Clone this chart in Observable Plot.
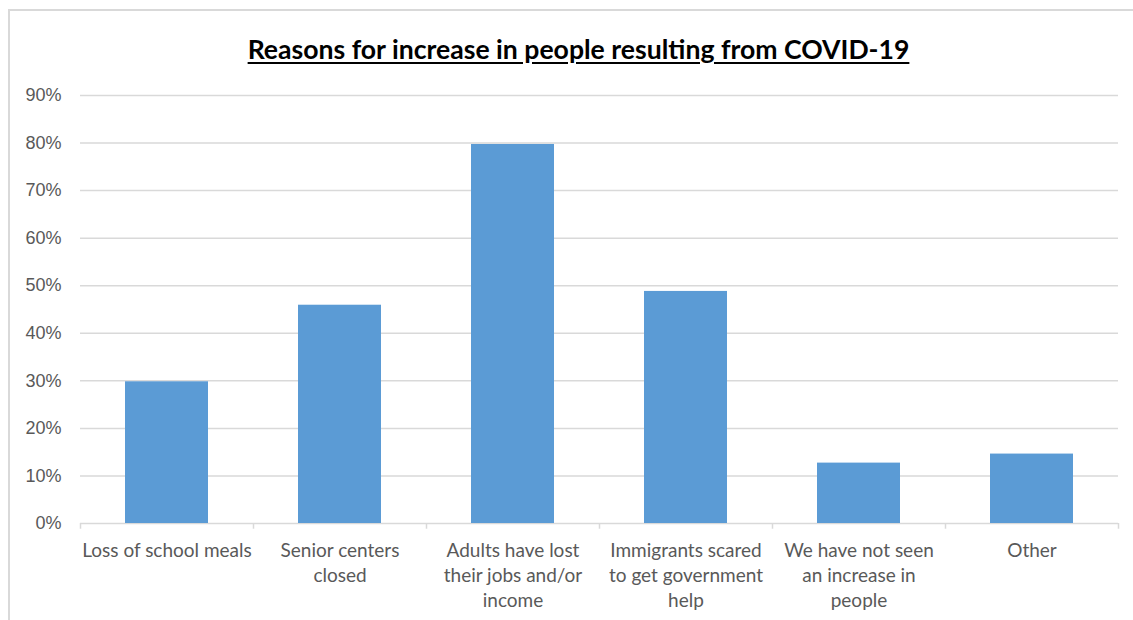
<!DOCTYPE html>
<html><head><meta charset="utf-8">
<script src="https://cdn.jsdelivr.net/npm/d3@7"></script>
<script src="https://cdn.jsdelivr.net/npm/@observablehq/plot@0.6"></script>
<style>
html,body{margin:0;padding:0;background:#fff;}
#wrap{position:relative;width:1133px;height:620px;overflow:hidden;}
#frame{position:absolute;left:8px;top:9px;width:1140px;height:640px;border:2px solid #d9d9d9;box-sizing:border-box;}
#title{position:absolute;left:0;width:1157px;top:33px;text-align:center;font-family:Lato,sans-serif;font-weight:bold;font-size:26.6px;color:#000;text-decoration:underline;text-underline-offset:3px;}
#chart{position:absolute;left:0;top:0;}
</style></head><body>
<div id="wrap"><div id="frame"></div><div id="title">Reasons for increase in people resulting from COVID-19</div><div id="chart"></div></div>
<script>
const categories = ["Loss of school meals","Senior centers closed","Adults have lost their jobs and/or income","Immigrants scared to get government help","We have not seen an increase in people","Other"];
const labelLines = ["Loss of school meals","Senior centers\nclosed","Adults have lost\ntheir jobs and/or\nincome","Immigrants scared\nto get government\nhelp","We have not seen\nan increase in\npeople","Other"];
const values = [0.298, 0.459, 0.797, 0.488, 0.127, 0.146];
const yTicks = [0,0.1,0.2,0.3,0.4,0.5,0.6,0.7,0.8,0.9];

const data = categories.map((c,i)=>({cat:c, v:values[i]}));
const labelOf = new Map(categories.map((c,i)=>[c,labelLines[i]]));
const W = 1133, ML = 80, MR = 15;
const bw = (W-ML-MR)/categories.length;

const plot = Plot.plot({
  width: W, height: 620,
  marginTop: 95, marginBottom: 97, marginLeft: ML, marginRight: MR,
  style:{background:"transparent"},
  x:{domain:categories, padding:0},
  y:{domain:[0,0.9]},
  marks:[
    Plot.ruleY(yTicks, {stroke:"#d9d9d9", strokeWidth:1.5}),
    Plot.barY(data, {x:"cat", y:"v", fill:"#5b9bd5", insetLeft:45, insetRight:45}),
    Plot.ruleX(categories, {x:d=>d, y1:0, y2:-0.012, dx:-bw/2, stroke:"#d9d9d9", strokeWidth:1.5}),
    Plot.ruleX([categories[categories.length-1]], {x:d=>d, y1:0, y2:-0.012, dx:bw/2, stroke:"#d9d9d9", strokeWidth:1.5}),
    Plot.axisY({ticks:yTicks, tickFormat:d=>Math.round(d*100)+"%", tickSize:0, tickPadding:19, fontSize:18, fontFamily:"Liberation Sans, Arial, sans-serif", color:"#595959", label:null}),
    Plot.axisX({tickFormat:d=>labelOf.get(d), tickSize:0, tickPadding:16, fontSize:19, fontFamily:"Lato, sans-serif", color:"#595959", lineHeight:1.32, label:null, textOverflow:null, lineWidth:Infinity})
  ]
});
document.getElementById("chart").appendChild(plot);
</script>
</body></html>
